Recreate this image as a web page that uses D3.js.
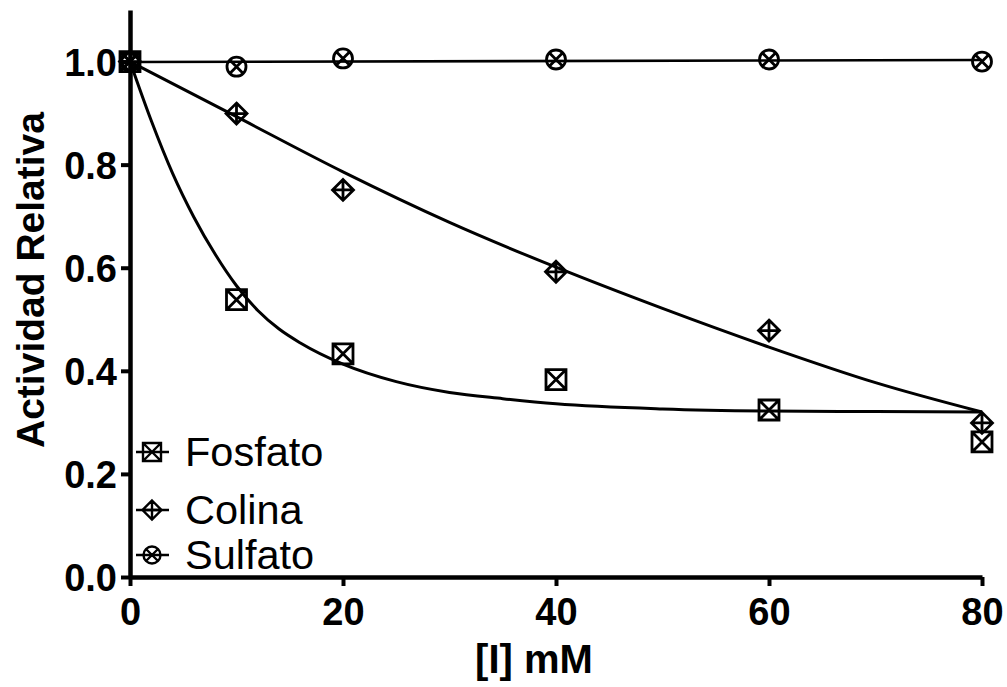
<!DOCTYPE html>
<html>
<head>
<meta charset="utf-8">
<script src="https://cdn.jsdelivr.net/npm/d3@7"></script>
<style>
  html, body { margin: 0; padding: 0; background: #fff; }
  svg { display: block; }
</style>
</head>
<body>
<svg id="chart" width="1007" height="687"></svg>
<script>
// Inhibitor concentrations [I] (mM)
const doses = [0, 10, 20, 40, 60, 80];

// Relative activity measured for each inhibitor
const fosfato = [1.000, 0.538, 0.433, 0.383, 0.324, 0.262];
const colina  = [1.000, 0.899, 0.751, 0.592, 0.478, 0.299];
const sulfato = [1.000, 0.990, 1.006, 1.004, 1.004, 1.000];

// Fitted curves (x in mM, y as relative activity)
const fosfatoFitX = [0, 2, 4, 6, 8, 10, 12, 14, 16, 20, 25, 30, 35, 40, 50, 60, 70, 80];
const fosfatoFitY = [1.000, 0.885, 0.783, 0.698, 0.626, 0.565, 0.517, 0.481, 0.454, 0.413, 0.379, 0.358, 0.346, 0.336, 0.326, 0.322, 0.321, 0.320];
const colinaFitX = [0, 10, 20, 30, 40, 50, 60, 70, 80];
const colinaFitY = [1.000, 0.893, 0.786, 0.688, 0.601, 0.521, 0.446, 0.377, 0.320];
const sulfatoFitX = [0, 80];
const sulfatoFitY = [0.999, 1.003];

// Axis ticks and labels
const xTicks = [0, 20, 40, 60, 80];
const yTicks = [0.0, 0.2, 0.4, 0.6, 0.8, 1.0];
const xTitle = "[I] mM";
const yTitle = "Actividad Relativa";
const seriesNames = ["Fosfato", "Colina", "Sulfato"];

const svg = d3.select("#chart");
const FONT = "'Liberation Sans', Arial, Helvetica, sans-serif";

const x = d3.scaleLinear().domain([0, 80]).range([130, 982]);
const y = d3.scaleLinear().domain([0, 1.1]).range([577, 10]);

// Marker path generators (centred on 0,0)
function squareX(s) {
  const h = s / 2;
  return `M${-h},${-h}H${h}V${h}H${-h}Z M${-h},${-h}L${h},${h} M${h},${-h}L${-h},${h}`;
}
function diamondPlus(s) {
  const h = s / 2;
  return `M0,${-h}L${h},0L0,${h}L${-h},0Z M0,${-h}V${h} M${-h},0H${h}`;
}
function circleX(s) {
  const r = s / 2, d = r * Math.SQRT1_2;
  return `M${r},0A${r},${r} 0 1,1 ${-r},0A${r},${r} 0 1,1 ${r},0Z M${-d},${-d}L${d},${d} M${d},${-d}L${-d},${d}`;
}
const markers = [squareX, diamondPlus, circleX];

// Fitted lines
const line = d3.line()
  .x(d => x(d[0]))
  .y(d => y(d[1]))
  .curve(d3.curveMonotoneX);

const fits = [
  d3.zip(fosfatoFitX, fosfatoFitY),
  d3.zip(colinaFitX, colinaFitY),
  d3.zip(sulfatoFitX, sulfatoFitY)
];
const fitWidths = [3, 3, 2.6];

svg.append("g").selectAll("path")
  .data(fits)
  .join("path")
  .attr("d", line)
  .attr("fill", "none")
  .attr("stroke", "#000")
  .attr("stroke-width", (d, i) => fitWidths[i]);

// Data points
const seriesData = [fosfato, colina, sulfato];
const markerSize = [20, 21, 19];
seriesData.forEach((vals, si) => {
  svg.append("g").selectAll("path")
    .data(d3.zip(doses, vals))
    .join("path")
    .attr("transform", d => `translate(${x(d[0])},${y(d[1])})`)
    .attr("d", markers[si](markerSize[si]))
    .attr("fill", "none")
    .attr("stroke", "#000")
    .attr("stroke-width", 2.8);
});

// Axes
const xAxis = d3.axisBottom(x)
  .tickValues(xTicks)
  .tickFormat(d3.format("d"))
  .tickSizeInner(9)
  .tickSizeOuter(0)
  .tickPadding(12);
const yAxis = d3.axisLeft(y)
  .tickValues(yTicks)
  .tickFormat(d3.format(".1f"))
  .tickSizeInner(9)
  .tickSizeOuter(0)
  .tickPadding(4);

const gx = svg.append("g").attr("transform", `translate(0,${y(0)})`).call(xAxis);
const gy = svg.append("g").attr("transform", `translate(${x(0)},0)`).call(yAxis);

[gx, gy].forEach(g => {
  g.select(".domain").attr("stroke", "#000").attr("stroke-width", 4.5);
  g.selectAll(".tick line").attr("stroke", "#000").attr("stroke-width", 4);
  g.selectAll(".tick text")
    .attr("fill", "#000")
    .style("font-family", FONT)
    .style("font-weight", "bold")
    .style("font-size", "38px");
});
gy.selectAll(".tick text").attr("dy", "0.36em");

// Axis titles
svg.append("text")
  .attr("x", 534)
  .attr("y", 673)
  .attr("text-anchor", "middle")
  .style("font-family", FONT)
  .style("font-weight", "bold")
  .style("font-size", "40px")
  .text(xTitle);

svg.append("text")
  .attr("transform", "translate(44,280) rotate(-90)")
  .attr("text-anchor", "middle")
  .style("font-family", FONT)
  .style("font-weight", "bold")
  .style("font-size", "39px")
  .text(yTitle);

// Legend
const legendY = [452, 510, 555];
const legendBase = [466, 524, 569];
const legendSize = [18, 19, 17];
const legend = svg.append("g");
seriesNames.forEach((name, i) => {
  legend.append("line")
    .attr("x1", 136).attr("x2", 169)
    .attr("y1", legendY[i]).attr("y2", legendY[i])
    .attr("stroke", "#000").attr("stroke-width", 2.4);
  legend.append("path")
    .attr("transform", `translate(152,${legendY[i]})`)
    .attr("d", markers[i](legendSize[i]))
    .attr("fill", "none")
    .attr("stroke", "#000")
    .attr("stroke-width", 2.4);
  legend.append("text")
    .attr("x", 185)
    .attr("y", legendBase[i])
    .style("font-family", FONT)
    .style("font-size", "41.5px")
    .text(name);
});
</script>
</body>
</html>
